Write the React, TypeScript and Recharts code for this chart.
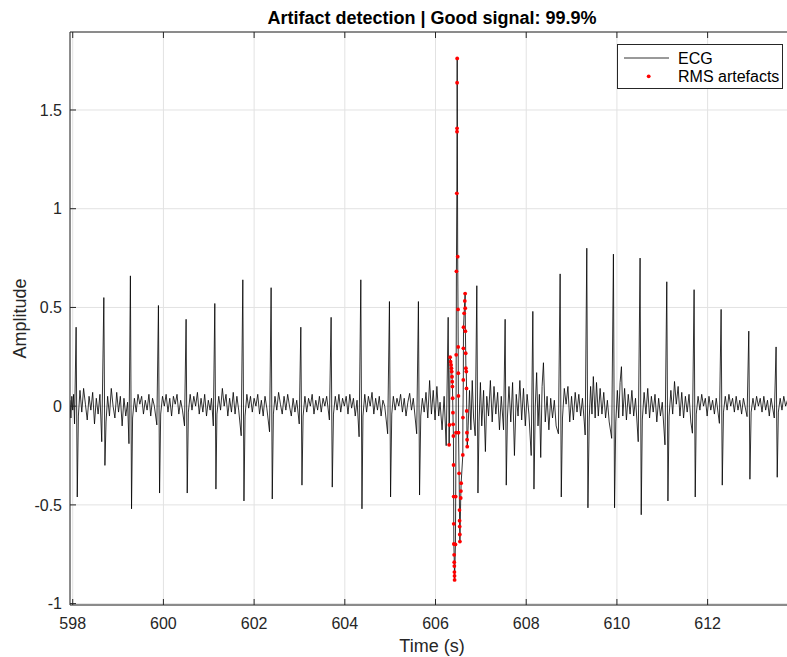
import {
  ComposedChart,
  Line,
  Scatter,
  XAxis,
  YAxis,
  CartesianGrid,
  ReferenceLine,
} from "recharts";

// time (s), amplitude
const ecgBefore: [number, number][] = [
  [597.94, 0.03], [597.96, -0.06], [597.98, 0.05], [598.0, -0.02], [598.02, 0.06], [598.04, -0.09],
  [598.075, 0.4], [598.1, -0.46], [598.125, -0.05], [598.16, 0.08], [598.2, -0.03], [598.24, 0.09],
  [598.28, 0.01], [598.32, -0.07], [598.36, 0.05], [598.4, -0.02], [598.44, 0.07], [598.48, -0.09],
  [598.52, 0.04], [598.56, -0.04], [598.6, 0.06], [598.64, -0.18],
  [598.686, 0.55], [598.71, -0.3], [598.735, -0.08], [598.77, 0.05], [598.81, -0.05], [598.85, 0.09],
  [598.89, 0.0], [598.93, -0.06], [598.97, 0.07], [599.01, -0.03], [599.05, 0.05], [599.09, -0.1],
  [599.13, 0.04], [599.17, -0.05], [599.21, 0.02], [599.24, -0.19],
  [599.272, 0.66], [599.297, -0.52], [599.32, -0.06], [599.36, 0.04], [599.4, -0.03], [599.44, 0.06],
  [599.48, 0.01], [599.52, 0.05], [599.56, -0.04], [599.6, 0.03], [599.64, -0.02], [599.68, 0.06],
  [599.72, -0.05], [599.76, 0.04], [599.8, 0.0], [599.855, -0.095],
  [599.89, 0.51], [599.915, -0.44], [599.94, -0.04], [599.98, 0.05], [600.02, 0.0], [600.06, 0.06],
  [600.1, -0.03], [600.14, 0.04], [600.18, -0.05], [600.22, 0.05], [600.26, 0.01], [600.3, 0.06],
  [600.34, -0.04], [600.38, 0.03], [600.42, -0.02], [600.465, -0.1],
  [600.5, 0.44], [600.525, -0.44], [600.55, -0.03], [600.59, 0.06], [600.63, -0.02], [600.67, 0.05],
  [600.71, 0.0], [600.75, 0.07], [600.79, -0.04], [600.83, 0.04], [600.87, -0.03], [600.91, 0.06],
  [600.95, -0.05], [600.99, 0.03], [601.03, -0.02], [601.06, 0.04], [601.1, -0.1],
  [601.133, 0.52], [601.158, -0.42], [601.18, -0.04], [601.22, 0.05], [601.26, -0.02], [601.3, 0.09],
  [601.34, 0.0], [601.38, 0.06], [601.42, -0.05], [601.46, 0.04], [601.5, -0.03], [601.54, 0.07],
  [601.58, -0.04], [601.62, 0.05], [601.66, -0.02], [601.715, -0.15],
  [601.751, 0.64], [601.776, -0.48], [601.8, -0.05], [601.84, 0.06], [601.88, -0.01], [601.92, 0.05],
  [601.96, -0.03], [602.0, 0.04], [602.04, 0.0], [602.08, 0.06], [602.12, -0.04], [602.16, 0.03],
  [602.2, -0.05], [602.24, 0.05], [602.28, -0.01], [602.34, -0.13],
  [602.375, 0.6], [602.4, -0.47], [602.425, -0.04], [602.46, 0.05], [602.5, -0.02], [602.54, 0.07],
  [602.58, 0.01], [602.62, -0.04], [602.66, 0.05], [602.7, -0.02], [602.74, 0.06], [602.78, 0.0],
  [602.82, -0.05], [602.86, 0.04], [602.9, -0.03], [602.94, 0.03], [602.995, -0.09],
  [603.03, 0.4], [603.055, -0.4], [603.08, -0.05], [603.12, 0.05], [603.16, -0.03], [603.2, 0.04],
  [603.24, 0.0], [603.28, 0.06], [603.32, -0.04], [603.36, 0.03], [603.4, -0.02], [603.44, 0.05],
  [603.48, -0.03], [603.52, 0.04], [603.56, 0.0], [603.6, 0.05], [603.66, -0.07],
  [603.698, 0.45], [603.723, -0.41], [603.75, -0.04], [603.79, 0.05], [603.83, -0.02], [603.87, 0.06],
  [603.91, -0.03], [603.95, 0.04], [603.99, 0.0], [604.03, 0.05], [604.07, -0.04], [604.11, 0.06],
  [604.15, -0.01], [604.19, 0.04], [604.23, -0.05], [604.27, 0.03], [604.315, -0.155],
  [604.353, 0.64], [604.378, -0.52], [604.4, -0.05], [604.44, 0.06], [604.48, -0.03], [604.52, 0.05],
  [604.56, 0.0], [604.6, 0.07], [604.64, -0.04], [604.68, 0.04], [604.72, -0.02], [604.76, 0.05],
  [604.8, -0.05], [604.84, 0.03], [604.88, 0.0], [604.945, -0.14],
  [604.984, 0.53], [605.009, -0.46], [605.035, -0.04], [605.07, 0.05], [605.11, -0.02], [605.15, 0.04],
  [605.19, 0.0], [605.23, 0.06], [605.27, -0.03], [605.31, 0.04], [605.35, -0.05], [605.39, 0.02],
  [605.43, 0.065], [605.47, -0.02], [605.51, 0.04], [605.585, -0.14],
  [605.623, 0.53], [605.648, -0.45], [605.675, -0.05], [605.71, 0.04], [605.75, -0.03], [605.79, 0.07],
  [605.83, -0.06], [605.87, 0.13], [605.91, -0.04], [605.95, 0.08], [605.99, -0.07], [606.03, 0.1],
  [606.07, -0.05], [606.1, 0.02], [606.145, -0.12], [606.19, 0.05], [606.235, -0.2],
  [606.279, 0.45],
];

// samples flagged by the RMS detector
const artefacts: [number, number][] = [
  [606.3, -0.196], [606.307, -0.095], [606.322, 0.248], [606.333, 0.225], [606.344, 0.209],
  [606.351, 0.192], [606.357, 0.175], [606.364, 0.149], [606.369, 0.124], [606.373, 0.099],
  [606.378, 0.04], [606.384, -0.033], [606.389, -0.092], [606.395, -0.151], [606.398, -0.298],
  [606.4, -0.458], [606.402, -0.596], [606.404, -0.698], [606.411, -0.753], [606.413, -0.79],
  [606.415, -0.81], [606.417, -0.84], [606.419, -0.86], [606.421, -0.88], [606.439, -0.7],
  [606.445, -0.458], [606.452, -0.134], [606.456, 0.26], [606.461, 0.683], [606.47, 1.078],
  [606.474, 1.39], [606.475, 1.407], [606.476, 1.638], [606.478, 1.761], [606.489, 0.757],
  [606.496, 0.49], [606.5, 0.3], [606.502, 0.167], [606.505, 0.052], [606.507, -0.134],
  [606.52, -0.34], [606.529, -0.526], [606.531, -0.58], [606.533, -0.61], [606.536, -0.65],
  [606.538, -0.686], [606.556, -0.465], [606.56, -0.43], [606.565, -0.39], [606.602, -0.247],
  [606.604, -0.058], [606.613, 0.133], [606.615, 0.293], [606.618, 0.4], [606.631, 0.47],
  [606.646, 0.533], [606.653, 0.57], [606.655, 0.496], [606.659, 0.38], [606.666, 0.268],
  [606.67, 0.192], [606.679, 0.175], [606.684, 0.09], [606.688, -0.024], [606.693, -0.134],
  [606.697, -0.17], [606.7, -0.205],
];

const ecgAfter: [number, number][] = [
  [606.72, -0.1], [606.75, 0.08], [606.78, -0.12], [606.81, 0.13], [606.84, -0.06], [606.875, -0.15],
  [606.911, 0.61], [606.936, -0.44], [606.96, -0.08], [606.99, 0.12], [607.02, -0.1], [607.06, 0.08],
  [607.1, -0.23], [607.13, 0.05], [607.17, -0.05], [607.21, 0.13], [607.25, -0.08], [607.29, 0.1],
  [607.33, -0.04], [607.37, 0.07], [607.41, -0.12], [607.45, 0.05], [607.5, -0.12],
  [607.535, 0.44], [607.56, -0.4], [607.585, -0.06], [607.62, 0.1], [607.66, -0.08], [607.7, 0.12],
  [607.74, -0.25], [607.78, 0.06], [607.82, -0.05], [607.86, 0.13], [607.9, -0.07], [607.94, 0.09],
  [607.98, -0.1], [608.02, 0.06], [608.06, -0.04], [608.11, -0.25],
  [608.146, 0.48], [608.171, -0.42], [608.2, 0.0], [608.23, 0.17], [608.26, -0.1], [608.29, 0.06],
  [608.32, -0.26], [608.35, 0.1], [608.38, 0.22], [608.42, -0.08], [608.46, 0.05], [608.5, -0.12],
  [608.54, 0.04], [608.58, -0.06], [608.62, 0.03], [608.66, -0.1], [608.71, -0.14],
  [608.748, 0.67], [608.773, -0.46], [608.8, -0.06], [608.84, 0.09], [608.88, 0.01], [608.92, 0.1],
  [608.96, -0.08], [609.0, 0.05], [609.04, -0.07], [609.08, 0.07], [609.12, -0.03], [609.16, 0.06],
  [609.2, -0.05], [609.24, 0.04], [609.28, -0.08], [609.3, -0.146],
  [609.336, 0.8], [609.361, -0.515], [609.39, -0.06], [609.42, 0.1], [609.45, -0.04], [609.48, 0.15],
  [609.52, -0.06], [609.55, 0.12], [609.59, -0.05], [609.63, 0.09], [609.67, -0.04], [609.71, 0.07],
  [609.75, -0.06], [609.79, 0.03], [609.83, -0.08], [609.885, -0.163],
  [609.923, 0.77], [609.948, -0.515], [609.975, -0.08], [610.01, 0.08], [610.04, -0.06], [610.07, 0.12],
  [610.1, 0.2], [610.13, -0.05], [610.17, 0.09], [610.21, -0.07], [610.25, 0.06], [610.29, -0.04],
  [610.33, 0.08], [610.37, -0.05], [610.41, 0.04], [610.47, -0.18],
  [610.511, 0.75], [610.536, -0.55], [610.56, -0.07], [610.6, 0.07], [610.64, -0.04], [610.68, 0.09],
  [610.72, -0.06], [610.76, 0.05], [610.8, -0.03], [610.84, 0.06], [610.88, -0.08], [610.92, 0.04],
  [610.96, -0.05], [611.0, 0.02], [611.06, -0.196],
  [611.1, 0.63], [611.125, -0.48], [611.15, -0.05], [611.19, 0.08], [611.23, -0.04], [611.27, 0.125],
  [611.31, 0.01], [611.35, 0.1], [611.39, -0.05], [611.43, 0.07], [611.47, -0.06], [611.51, 0.05],
  [611.55, -0.03], [611.59, 0.06], [611.63, -0.08], [611.665, -0.137],
  [611.702, 0.59], [611.727, -0.46], [611.75, -0.04], [611.79, 0.05], [611.83, -0.02], [611.87, 0.06],
  [611.91, 0.0], [611.95, 0.04], [611.99, -0.05], [612.03, 0.05], [612.07, -0.02], [612.11, 0.03],
  [612.15, -0.04], [612.19, 0.04], [612.26, -0.087],
  [612.298, 0.49], [612.323, -0.4], [612.35, -0.03], [612.39, 0.05], [612.43, -0.02], [612.47, 0.06],
  [612.51, 0.0], [612.55, 0.04], [612.59, -0.03], [612.63, 0.05], [612.67, -0.02], [612.71, 0.03],
  [612.75, -0.04], [612.79, 0.04], [612.87, -0.053],
  [612.908, 0.38], [612.933, -0.37], [612.96, -0.03], [613.0, 0.04], [613.04, -0.02], [613.08, 0.05],
  [613.12, 0.0], [613.16, 0.04], [613.2, -0.03], [613.24, 0.05], [613.28, -0.02], [613.32, 0.03],
  [613.36, -0.05], [613.4, 0.04], [613.47, -0.06],
  [613.51, 0.3], [613.535, -0.36], [613.56, -0.03], [613.6, 0.04], [613.64, -0.02], [613.68, 0.05],
  [613.72, 0.0], [613.76, 0.03], [613.8, -0.02], [613.84, 0.04], [613.88, 0.0], [613.905, 0.01],
];

const xTicks = [598, 600, 602, 604, 606, 608, 610, 612];
const yTicks = [-1, -0.5, 0, 0.5, 1, 1.5];
const X_DOMAIN: [number, number] = [597.94, 613.905];
const Y_DOMAIN: [number, number] = [-1.007, 1.895];

const TITLE = "Artifact detection | Good signal: 99.9%";
const FONT = "'Liberation Sans', Arial, Helvetica, sans-serif";
const AXIS = "#262626";
const GRID = "#e2e2e2";
const PLOT_TOP = 32;
const PLOT_LEFT = 70;
const PLOT_BOTTOM = 605;
const HEIGHT = 657;

const ecgData = [...ecgBefore, ...artefacts, ...ecgAfter].map(([t, v]) => ({ t, v }));
const artefactData = artefacts.map(([t, v]) => ({ t, v }));

const XTick = (props: any) => {
  const { x, y, payload } = props;
  return (
    <g>
      <line x1={x} y1={PLOT_BOTTOM} x2={x} y2={PLOT_BOTTOM - 6} stroke={AXIS} strokeWidth={1} />
      <line x1={x} y1={PLOT_TOP} x2={x} y2={PLOT_TOP + 6} stroke={AXIS} strokeWidth={1} />
      <text x={x} y={PLOT_BOTTOM + 24} textAnchor="middle" fill={AXIS} fontSize={16} fontFamily={FONT}>
        {payload.value}
      </text>
    </g>
  );
};

const YTick = (props: any) => {
  const { y, payload } = props;
  return (
    <g>
      <line x1={PLOT_LEFT} y1={y} x2={PLOT_LEFT + 6} y2={y} stroke={AXIS} strokeWidth={1} />
      <text x={PLOT_LEFT - 8} y={y + 5.7} textAnchor="end" fill={AXIS} fontSize={16} fontFamily={FONT}>
        {payload.value}
      </text>
    </g>
  );
};

const RedDot = (props: any) => <circle cx={props.cx} cy={props.cy} r={1.9} fill="#ff0000" />;

export default function App() {
  return (
    <div
      style={{
        position: "absolute",
        left: 0,
        top: 0,
        width: 787,
        height: HEIGHT,
        overflow: "hidden",
        background: "#fff",
      }}
    >
      <ComposedChart
        width={800}
        height={HEIGHT}
        margin={{ top: PLOT_TOP, right: 6, bottom: 0, left: 0 }}
      >
        <CartesianGrid stroke={GRID} strokeWidth={1} />
        <XAxis
          dataKey="t"
          type="number"
          domain={X_DOMAIN}
          allowDataOverflow
          ticks={xTicks}
          interval={0}
          height={HEIGHT - PLOT_BOTTOM}
          tickSize={0}
          tickMargin={0}
          tickLine={false}
          tick={<XTick />}
          axisLine={{ stroke: AXIS, strokeWidth: 1 }}
        />
        <YAxis
          dataKey="v"
          type="number"
          domain={Y_DOMAIN}
          allowDataOverflow
          ticks={yTicks}
          interval={0}
          width={PLOT_LEFT}
          tickSize={0}
          tickMargin={0}
          tickLine={false}
          tick={<YTick />}
          axisLine={{ stroke: AXIS, strokeWidth: 1 }}
        />
        <ReferenceLine y={Y_DOMAIN[1]} stroke={AXIS} strokeWidth={1} />
        <Line
          data={ecgData}
          dataKey="v"
          type="linear"
          stroke="#000"
          strokeWidth={0.8}
          dot={false}
          activeDot={false}
          isAnimationActive={false}
          name="ECG"
        />
        <Scatter
          data={artefactData}
          dataKey="v"
          shape={<RedDot />}
          isAnimationActive={false}
          name="RMS artefacts"
        />
      </ComposedChart>

      <svg
        width={787}
        height={HEIGHT}
        style={{ position: "absolute", left: 0, top: 0, pointerEvents: "none" }}
      >
        <text x={432} y={24} textAnchor="middle" fontSize={18} fontWeight="bold" fontFamily={FONT} fill="#000">
          {TITLE}
        </text>
        <text x={432} y={651.5} textAnchor="middle" fontSize={18} fontFamily={FONT} fill={AXIS}>
          Time (s)
        </text>
        <text
          x={26}
          y={318.5}
          textAnchor="middle"
          fontSize={18}
          fontFamily={FONT}
          fill={AXIS}
          transform="rotate(-90 26 318.5)"
        >
          Amplitude
        </text>

        <rect x={617.5} y={44.5} width={165} height={44} fill="#fff" stroke={AXIS} strokeWidth={1} />
        <line x1={624} y1={58} x2={669} y2={58} stroke="#000" strokeWidth={0.8} />
        <text x={678} y={63.5} fontSize={16} fontFamily={FONT} fill="#000">
          ECG
        </text>
        <circle cx={648.7} cy={76.3} r={1.9} fill="#ff0000" />
        <text x={678} y={82} fontSize={16} fontFamily={FONT} fill="#000">
          RMS artefacts
        </text>
      </svg>
    </div>
  );
}
